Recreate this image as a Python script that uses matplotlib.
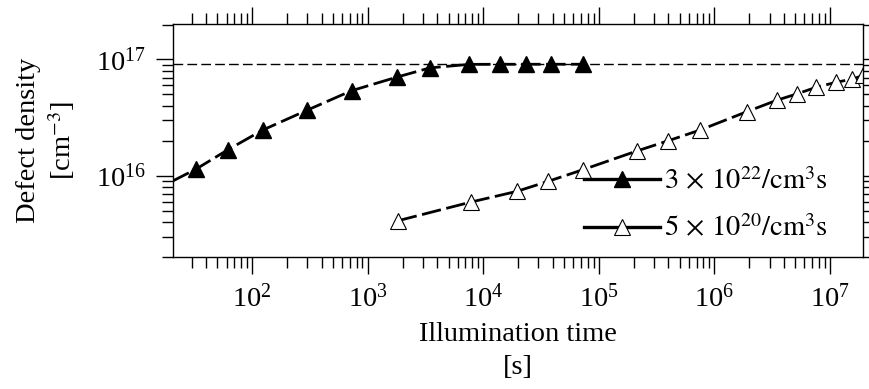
import matplotlib
matplotlib.use('Agg')
import matplotlib.pyplot as plt
from matplotlib.lines import Line2D

# illumination time [s] and defect density [cm^-3]
t_fast = [32.6, 62, 123, 296, 724, 1.8e3, 3.45e3, 7.5e3, 1.39e4, 2.34e4, 3.83e4, 7.33e4]
n_fast = [1.14e16, 1.68e16, 2.47e16, 3.65e16, 5.39e16, 7.07e16, 8.47e16, 9.08e16,
          9.1e16, 9.1e16, 9.1e16, 9.1e16]
# start of the fitted curve at the left edge
t_fast_start = 20
n_fast_start = 8.9e15

t_slow = [1.82e3, 7.87e3, 1.94e4, 3.65e4, 7.33e4, 2.12e5, 3.98e5, 7.5e5, 1.9e6,
          3.46e6, 5.15e6, 7.57e6, 1.13e7, 1.54e7, 1.95e7]
n_slow = [4.1e15, 5.95e15, 7.33e15, 8.96e15, 1.13e16, 1.63e16, 2.0e16, 2.47e16,
          3.55e16, 4.46e16, 5.05e16, 5.76e16, 6.37e16, 6.76e16, 7.3e16]

n_saturation = 9.2e16

labels = [r'$3\,\times\,10^{22}/\mathrm{cm}^3\mathrm{s}$',
          r'$5\,\times\,10^{20}/\mathrm{cm}^3\mathrm{s}$']

plt.rcParams['font.family'] = ['Liberation Serif', 'DejaVu Serif']
plt.rcParams['mathtext.fontset'] = 'stix'
plt.rcParams['font.size'] = 20.5

fig = plt.figure(figsize=(8.7, 3.89), dpi=100)
ax = fig.add_axes([0.1985, 0.3393, 0.7931, 0.599])

ax.axhline(n_saturation, color='k', lw=1.0, dashes=(7, 3))

ax.plot([t_fast_start] + t_fast, [n_fast_start] + n_fast,
        color='k', lw=2.0, dashes=(7, 2))
ax.plot(t_fast, n_fast, linestyle='none', marker='^', markersize=12,
        color='k')

ax.plot(t_slow, n_slow, color='k', lw=2.0, dashes=(7, 2))
ax.plot(t_slow, n_slow, linestyle='none', marker='^', markersize=12,
        markerfacecolor='white', markeredgecolor='k', markeredgewidth=0.8)

ax.set_xscale('log')
ax.set_yscale('log')
ax.set_xlim(20.5, 1.92e7)
ax.set_ylim(2.0e15, 2.02e17)

ax.tick_params(which='both', direction='out', top=True, right=True,
               width=1.0, pad=7)
ax.tick_params(which='major', length=12.5)
ax.tick_params(which='minor', length=8)
for spine in ax.spines.values():
    spine.set_linewidth(1.0)

ax.set_xlabel('Illumination time\n[s]', linespacing=1.4)
ax.xaxis.set_label_coords(0.5, -0.28)
ax.set_ylabel('Defect density\n[cm$^{-3}$]')
ax.yaxis.set_label_coords(-0.139, 0.5)

handles = [
    Line2D([], [], color='k', lw=2.4, marker='^', markersize=12),
    Line2D([], [], color='k', lw=2.4, marker='^', markersize=12,
           markerfacecolor='white', markeredgewidth=0.8),
]
ax.legend(handles, labels, loc='lower right', bbox_to_anchor=(0.966, 0.013),
          frameon=False, handlelength=2.67, handletextpad=0.15,
          labelspacing=0.7, borderaxespad=0, numpoints=1)

plt.savefig('out.png', dpi=100)
